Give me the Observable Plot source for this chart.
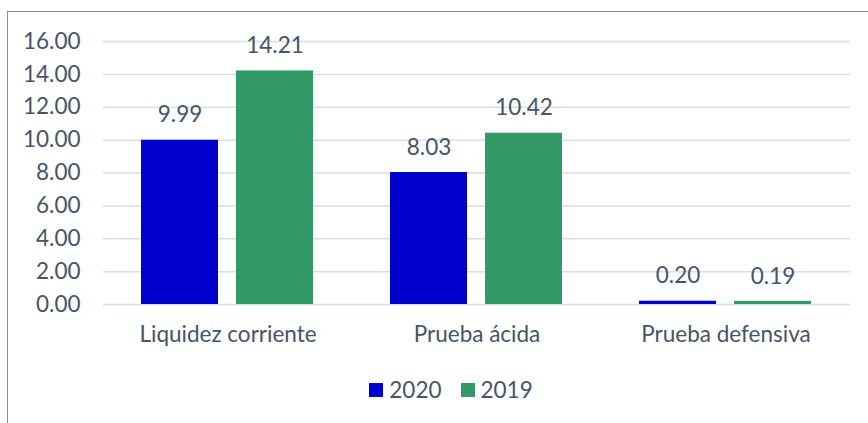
<!DOCTYPE html>
<html>
<head>
<meta charset="utf-8">
<script src="https://cdn.jsdelivr.net/npm/d3@7"></script>
<script src="https://cdn.jsdelivr.net/npm/@observablehq/plot@0.6"></script>
<style>
  html, body { margin: 0; padding: 0; background: #fff; overflow: hidden; width: 868px; height: 423px; }
  #frame { position: absolute; left: 7px; top: 11px; width: 900px; height: 500px; border-top: 1.5px solid #8c8c8c; border-left: 1.5px solid #8c8c8c; }
  #chart { position: absolute; left: 0; top: 0; }
  #legend { position: absolute; left: 4px; top: 373px; width: 913px; display: flex; justify-content: center; }
  #legend svg { margin-right: 6px !important; }
  #legend span { margin-right: 19px !important; }
</style>
</head>
<body>
<div id="frame"></div>
<div id="chart"></div>
<div id="legend"></div>
<script>
const categories = ["Liquidez corriente", "Prueba ácida", "Prueba defensiva"];
const years = ["2020", "2019"];
const values2020 = [9.99, 8.03, 0.20];
const values2019 = [14.21, 10.42, 0.19];
const yTicks = [0, 2, 4, 6, 8, 10, 12, 14, 16];
const colors = ["#0000CC", "#339966"];

const textColor = "#44546A";
const fontFamily = "Lato, 'Open Sans', sans-serif";
const fontSize = 22.5;

const data = categories.flatMap((c, i) => [
  {cat: c, year: years[0], value: values2020[i]},
  {cat: c, year: years[1], value: values2019[i]}
]);

const chart = Plot.plot({
  width: 868,
  height: 370,
  marginLeft: 102,
  marginRight: 17,
  marginTop: 41,
  marginBottom: 66,
  style: {fontFamily, fontSize: fontSize + "px", color: textColor, background: "transparent", overflow: "visible"},
  fx: {domain: categories, padding: 0, label: null, axis: "bottom", tickSize: 0, tickPadding: 22},
  x: {domain: years, paddingInner: 0.1875, paddingOuter: 0.394, axis: null},
  y: {domain: [0, 16], ticks: yTicks, tickFormat: d => d.toFixed(2), label: null, tickSize: 0, tickPadding: 23},
  color: {domain: years, range: colors},
  marks: [
    Plot.gridY(yTicks, {stroke: "#D9DEE4", strokeOpacity: 1, strokeWidth: 1.5}),
    Plot.barY(data, {fx: "cat", x: "year", y: "value", fill: "year"}),
    Plot.text(data, {fx: "cat", x: "year", y: "value", text: d => d.value.toFixed(2), dy: -25, fill: textColor, fontSize})
  ]
});
document.getElementById("chart").appendChild(chart);

const legend = chart.legend("color", {
  swatchSize: 14,
  style: {fontFamily, fontSize: fontSize + "px", color: textColor}
});
document.getElementById("legend").appendChild(legend);
</script>
</body>
</html>
